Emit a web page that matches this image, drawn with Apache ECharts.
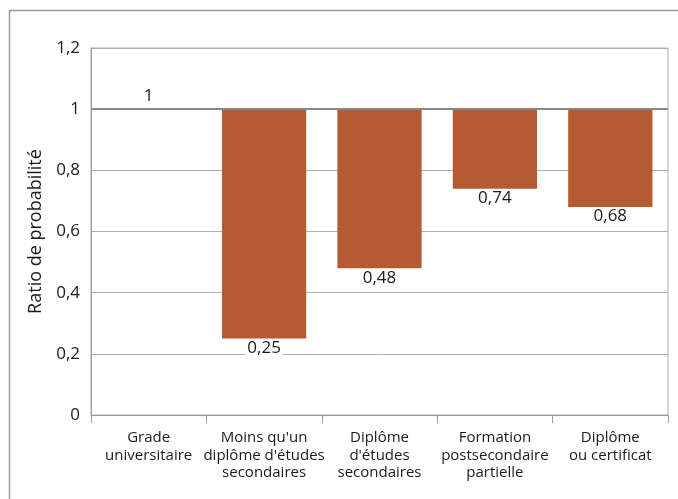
<!DOCTYPE html>
<html><head><meta charset="utf-8">
<script src="https://cdn.jsdelivr.net/npm/echarts@6/dist/echarts.min.js"></script>
<style>html,body{margin:0;padding:0;background:#fff}#c{width:678px;height:499px}</style>
</head><body><div id="c"></div>
<script>
const categories = ["Grade\nuniversitaire", "Moins qu'un\ndiplôme d'études\nsecondaires", "Diplôme\nd'études\nsecondaires", "Formation\npostsecondaire\npartielle", "Diplôme\nou certificat"];
const values = [1, 0.25, 0.48, 0.74, 0.68];
const baseline = 1;
const yTicks = [0, 0.2, 0.4, 0.6, 0.8, 1, 1.2];
const FONT = '"Open Sans", "Noto Sans", sans-serif';
const fmt = v => String(Math.round(v * 100) / 100).replace('.', ',');

const chart = echarts.init(document.getElementById('c'), null, {renderer: 'canvas'});
chart.setOption({
  animation: false,
  backgroundColor: '#fff',
  graphic: [{type: 'rect', shape: {x: 9.5, y: 10.5, width: 700, height: 600}, style: {fill: 'none', stroke: '#9a9a9a', lineWidth: 1.5}, z: -10}],
  grid: {left: 91, right: 10, top: 48, bottom: 84, show: true, borderColor: '#b0b0b0', borderWidth: 1},
  xAxis: {
    type: 'category', data: categories,
    axisLine: {lineStyle: {color: '#999'}},
    axisTick: {show: true, length: 8, lineStyle: {color: '#999'}},
    axisLabel: {color: '#1a1a1a', fontFamily: FONT, fontSize: 15, lineHeight: 17.5, margin: 14, interval: 0}
  },
  yAxis: {
    type: 'value', min: yTicks[0], max: yTicks[yTicks.length - 1], interval: 0.2,
    name: 'Ratio de probabilité', nameLocation: 'middle', nameGap: 43,
    nameTextStyle: {color: '#1a1a1a', fontFamily: FONT, fontSize: 18},
    axisLine: {show: true, lineStyle: {color: '#999'}},
    axisTick: {show: false},
    axisLabel: {color: '#1a1a1a', fontFamily: FONT, fontSize: 17, margin: 11, formatter: fmt},
    splitLine: {lineStyle: {color: '#b0b0b0'}}
  },
  series: [{
    type: 'custom',
    data: values.map((v, i) => [i, v]),
    renderItem: function (params, api) {
      const i = api.value(0), v = api.value(1);
      const top = api.coord([i, baseline]);
      const bot = api.coord([i, v]);
      const bw = api.size([1, 0])[0] * 0.73;
      const children = [];
      if (v < baseline) {
        children.push({type: 'rect', shape: {x: top[0] - bw / 2, y: top[1], width: bw, height: bot[1] - top[1]}, style: {fill: '#B65A34'}});
      }
      children.push({type: 'text', z2: 10, style: {
        text: fmt(v), x: top[0], y: v < baseline ? bot[1] + 1 : top[1] - 5,
        align: 'center', verticalAlign: v < baseline ? 'top' : 'bottom',
        fill: '#1a1a1a', font: '17px ' + FONT, backgroundColor: '#fff', padding: [0, 2]
      }});
      return {type: 'group', children};
    },
    markLine: {
      silent: true, symbol: 'none', label: {show: false},
      lineStyle: {color: '#888', width: 2, type: 'solid'},
      data: [{yAxis: baseline}]
    },
    z: 3
  }]
});
</script></body></html>
